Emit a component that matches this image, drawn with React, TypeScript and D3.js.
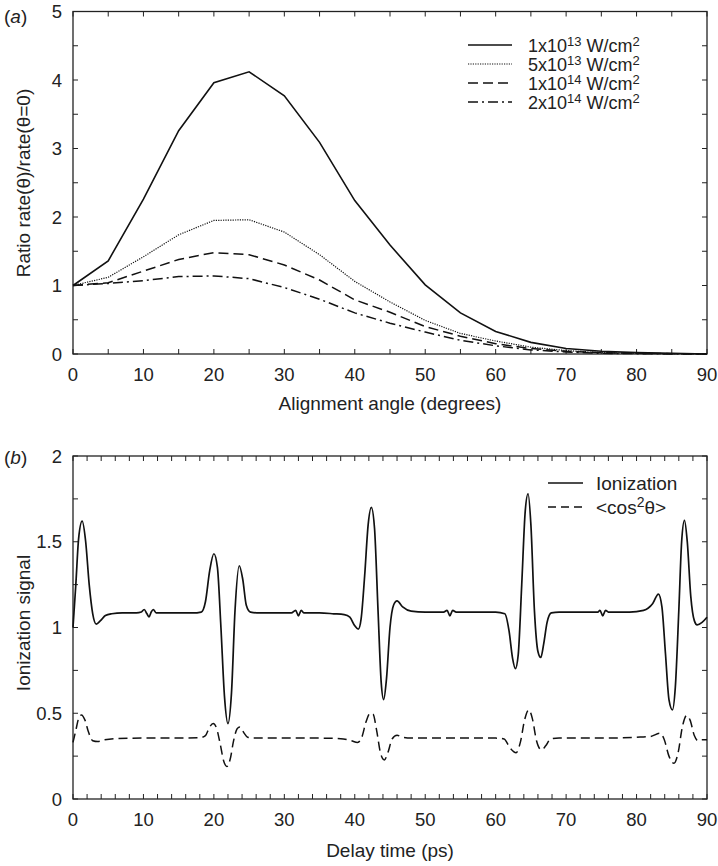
import React from 'react';
import * as d3 from 'd3';

// ---------- Panel (a) data ----------
const angles = [0, 5, 10, 15, 20, 25, 30, 35, 40, 45, 50, 55, 60, 65, 70, 75, 80, 85, 90];
const ratio1e13 = [1, 1.36, 2.26, 3.26, 3.96, 4.12, 3.77, 3.09, 2.24, 1.59, 1.01, 0.6, 0.33, 0.17, 0.08, 0.04, 0.02, 0.01, 0];
const ratio5e13 = [1, 1.12, 1.42, 1.74, 1.95, 1.96, 1.78, 1.45, 1.06, 0.76, 0.49, 0.3, 0.19, 0.1, 0.05, 0.02, 0.01, 0.005, 0];
const ratio1e14 = [1, 1.04, 1.21, 1.38, 1.48, 1.45, 1.3, 1.08, 0.79, 0.61, 0.4, 0.26, 0.15, 0.08, 0.04, 0.02, 0.01, 0.005, 0];
const ratio2e14 = [1, 1.03, 1.07, 1.13, 1.14, 1.1, 0.97, 0.8, 0.6, 0.45, 0.32, 0.2, 0.12, 0.06, 0.03, 0.01, 0.005, 0, 0];

const seriesA = [
  { mant: '1x10', exp: '13', values: ratio1e13, dash: null, width: 1.6 },
  { mant: '5x10', exp: '13', values: ratio5e13, dash: '1.2,1.2', width: 1.2 },
  { mant: '1x10', exp: '14', values: ratio1e14, dash: '10,5', width: 1.5 },
  { mant: '2x10', exp: '14', values: ratio2e14, dash: '10,4,2,4', width: 1.5 },
];

const ticksAX = [0, 10, 20, 30, 40, 50, 60, 70, 80, 90];
const ticksAY = [0, 1, 2, 3, 4, 5];

// ---------- Panel (b) data ----------
const ionization: [number, number][] = [
  [0, 1.0], [0.4, 1.25], [0.8, 1.52], [1.3, 1.62], [1.8, 1.5], [2.3, 1.25], [2.8, 1.08], [3.3, 1.02], [3.9, 1.04],
  [4.6, 1.07], [5.5, 1.08], [7, 1.085], [9, 1.085], [9.7, 1.09], [10.1, 1.105], [10.5, 1.08], [10.8, 1.062],
  [11.1, 1.09], [11.4, 1.105], [11.8, 1.085], [13, 1.085], [15, 1.085], [17, 1.085], [18.2, 1.09], [18.8, 1.15],
  [19.4, 1.33], [20.0, 1.43], [20.5, 1.35], [21.0, 1.0], [21.5, 0.6], [22.0, 0.44], [22.5, 0.62], [23.0, 1.1],
  [23.6, 1.36], [24.1, 1.28], [24.6, 1.13], [25.2, 1.09], [26.5, 1.085], [29, 1.085], [31, 1.085], [31.6, 1.1],
  [32.0, 1.068], [32.4, 1.1], [32.8, 1.085], [35, 1.085], [37, 1.08], [38.5, 1.075], [39.3, 1.06], [40, 1.01],
  [40.5, 0.99], [40.9, 1.05], [41.4, 1.3], [41.9, 1.6], [42.35, 1.7], [42.8, 1.58], [43.3, 1.1], [43.75, 0.68],
  [44.1, 0.58], [44.5, 0.7], [45.0, 1.0], [45.5, 1.13], [46.0, 1.155], [46.8, 1.12], [48, 1.095], [50, 1.09],
  [52.6, 1.09], [53.1, 1.1], [53.5, 1.068], [53.9, 1.1], [54.4, 1.09], [57, 1.09], [60, 1.09], [61.3, 1.08],
  [61.9, 0.98], [62.4, 0.82], [62.8, 0.76], [63.2, 0.84], [63.7, 1.25], [64.2, 1.68], [64.6, 1.78], [65.0, 1.6],
  [65.5, 1.1], [66.0, 0.86], [66.4, 0.825], [66.8, 0.9], [67.3, 1.03], [67.9, 1.085], [69, 1.09], [72, 1.09],
  [74.5, 1.09], [74.8, 1.1], [75.2, 1.068], [75.6, 1.1], [76, 1.09], [79, 1.09], [81, 1.1], [82.3, 1.14],
  [83.1, 1.195], [83.6, 1.12], [84.1, 0.85], [84.6, 0.58], [85.1, 0.52], [85.5, 0.65], [86.0, 1.1], [86.4, 1.5],
  [86.8, 1.625], [87.2, 1.5], [87.7, 1.18], [88.2, 1.04], [88.6, 1.015], [89.3, 1.03], [90, 1.06],
];

const cos2: [number, number][] = [
  [0, 0.33], [0.4, 0.4], [0.8, 0.47], [1.2, 0.49], [1.7, 0.46], [2.2, 0.39], [2.8, 0.34], [3.5, 0.335],
  [4.5, 0.345], [6, 0.352], [10, 0.355], [15, 0.355], [18, 0.357], [18.8, 0.37], [19.4, 0.42], [19.9, 0.44],
  [20.4, 0.41], [20.9, 0.32], [21.4, 0.22], [21.85, 0.19], [22.3, 0.23], [22.8, 0.34], [23.3, 0.41], [23.7, 0.42],
  [24.2, 0.39], [24.8, 0.36], [25.5, 0.355], [30, 0.355], [35, 0.355], [38, 0.352], [39.5, 0.34], [40.4, 0.33],
  [41.0, 0.36], [41.6, 0.45], [42.2, 0.5], [42.6, 0.495], [43.1, 0.4], [43.7, 0.26], [44.2, 0.228], [44.7, 0.27],
  [45.3, 0.35], [46.0, 0.372], [46.8, 0.36], [48, 0.355], [55, 0.355], [60, 0.355], [61.2, 0.35], [62.0, 0.3],
  [62.9, 0.27], [63.5, 0.33], [64.1, 0.46], [64.7, 0.52], [65.2, 0.47], [65.8, 0.34], [66.5, 0.286], [67.1, 0.31],
  [67.8, 0.35], [69, 0.355], [75, 0.355], [80, 0.36], [82, 0.365], [83.3, 0.383], [83.9, 0.35], [84.6, 0.25],
  [85.3, 0.208], [85.9, 0.27], [86.5, 0.42], [87.1, 0.486], [87.6, 0.46], [88.2, 0.37], [88.7, 0.34],
  [89.3, 0.345], [90, 0.345],
];

const ticksBX = [0, 10, 20, 30, 40, 50, 60, 70, 80, 90];
const ticksBY = [0, 0.5, 1, 1.5, 2];
const tickLabelsBY = ['0', '0.5', '1', '1.5', '2'];

const FONT = "'Liberation Sans', Arial, Helvetica, sans-serif";
const AX = '#222';

const L = 73, R = 707;

function Frame({ x, y, xMinor, yMinor, xLabels, yLabels, yLabelText }: any) {
  const [y0, y1] = y.range();
  const [x0, x1] = x.range();
  return (
    <g>
      <rect x={x0} y={y1} width={x1 - x0} height={y0 - y1} fill="none" stroke={AX} strokeWidth={1.3} />
      {xMinor.map((v: number, i: number) => (
        <g key={'xt' + i}>
          <line x1={x(v)} x2={x(v)} y1={y0} y2={y0 - 5} stroke={AX} strokeWidth={1} />
          <line x1={x(v)} x2={x(v)} y1={y1} y2={y1 + 5} stroke={AX} strokeWidth={1} />
        </g>
      ))}
      {yMinor.map((v: number, i: number) => (
        <g key={'yt' + i}>
          <line x1={x0} x2={x0 + 5} y1={y(v)} y2={y(v)} stroke={AX} strokeWidth={1} />
          <line x1={x1} x2={x1 - 5} y1={y(v)} y2={y(v)} stroke={AX} strokeWidth={1} />
        </g>
      ))}
      {xLabels.map((v: number, i: number) => (
        <text key={'xl' + i} x={x(v)} y={y0 + 20} textAnchor="middle" dominantBaseline="central"
          fontFamily={FONT} fontSize={18.5} fill="#222">{v}</text>
      ))}
      {yLabels.map((v: number, i: number) => (
        <text key={'yl' + i} x={62} y={y(v)} textAnchor="end" dominantBaseline="central"
          fontFamily={FONT} fontSize={18.5} fill="#222">{yLabelText ? yLabelText[i] : v}</text>
      ))}
    </g>
  );
}

export default function App() {
  // Panel (a)
  const xA = d3.scaleLinear().domain([0, 90]).range([L, R]);
  const yA = d3.scaleLinear().domain([0, 5]).range([354, 11.5]);
  const lineA = (vals: number[]) =>
    d3.line<number>().x((_, i) => xA(angles[i])).y((d) => yA(d)).curve(d3.curveLinear)(vals) || '';

  // Panel (b)
  const xB = d3.scaleLinear().domain([0, 90]).range([L, R]);
  const yB = d3.scaleLinear().domain([0, 2]).range([799, 456]);
  const lineB = d3.line<[number, number]>().x((d) => xB(d[0])).y((d) => yB(d[1])).curve(d3.curveMonotoneX);

  const minorAX = d3.range(0, 90.01, 5);
  const minorAY = d3.range(0, 5.01, 0.5);
  const minorBX = d3.range(0, 90.01, 2);
  const minorBY = d3.range(0, 2.01, 0.25);

  const legA = [45, 64, 83, 102];

  return (
    <svg width={718} height={866} style={{ position: 'absolute', left: 0, top: 0, background: '#fff' }}>
      <rect x={0} y={0} width={718} height={866} fill="#fff" />
      {/* ---------- Panel (a) ---------- */}
      <Frame x={xA} y={yA} xMinor={minorAX} yMinor={minorAY} xLabels={ticksAX} yLabels={ticksAY} />
      {seriesA.map((s, i) => (
        <path key={'a' + i} d={lineA(s.values)} fill="none" stroke="#111" strokeWidth={s.width}
          strokeDasharray={s.dash || undefined} />
      ))}
      {seriesA.map((s, i) => (
        <g key={'la' + i}>
          <line x1={468} x2={512} y1={legA[i]} y2={legA[i]} stroke="#111" strokeWidth={s.width}
            strokeDasharray={s.dash || undefined} />
          <text x={528} y={legA[i] + 6.5} fontFamily={FONT} fontSize={18} fill="#222">
            {s.mant}
            <tspan fontSize={13} dy={-6}>{s.exp}</tspan>
            <tspan dy={6}> W/cm</tspan>
            <tspan fontSize={13} dy={-6}>2</tspan>
          </text>
        </g>
      ))}
      <text x={4} y={16} dominantBaseline="central" fontFamily={FONT} fontSize={19} fill="#222">
        (<tspan fontStyle="italic">a</tspan>)
      </text>
      <text x={390} y={403} textAnchor="middle" dominantBaseline="central" fontFamily={FONT} fontSize={19} fill="#222">
        Alignment angle (degrees)
      </text>
      <text transform="translate(23,183) rotate(-90)" textAnchor="middle" dominantBaseline="central"
        fontFamily={FONT} fontSize={19} fill="#222">
        Ratio rate(θ)/rate(θ=0)
      </text>

      {/* ---------- Panel (b) ---------- */}
      <Frame x={xB} y={yB} xMinor={minorBX} yMinor={minorBY} xLabels={ticksBX} yLabels={ticksBY} yLabelText={tickLabelsBY} />
      <path d={lineB(ionization) || ''} fill="none" stroke="#111" strokeWidth={1.7} />
      <path d={lineB(cos2) || ''} fill="none" stroke="#111" strokeWidth={1.5} strokeDasharray="9,5" />
      <line x1={548} x2={583} y1={483} y2={483} stroke="#111" strokeWidth={1.6} />
      <text x={596} y={483} dominantBaseline="central" fontFamily={FONT} fontSize={19} fill="#222">Ionization</text>
      <line x1={548} x2={583} y1={507} y2={507} stroke="#111" strokeWidth={1.5} strokeDasharray="8,5" />
      <text x={596} y={514} fontFamily={FONT} fontSize={19} fill="#222">
        &lt;cos<tspan fontSize={14} dy={-7}>2</tspan><tspan dy={7}>θ&gt;</tspan>
      </text>
      <text x={4} y={457} dominantBaseline="central" fontFamily={FONT} fontSize={19} fill="#222">
        (<tspan fontStyle="italic">b</tspan>)
      </text>
      <text x={390} y={850} textAnchor="middle" dominantBaseline="central" fontFamily={FONT} fontSize={19} fill="#222">
        Delay time (ps)
      </text>
      <text transform="translate(23,623) rotate(-90)" textAnchor="middle" dominantBaseline="central"
        fontFamily={FONT} fontSize={19} fill="#222">
        Ionization signal
      </text>
    </svg>
  );
}
